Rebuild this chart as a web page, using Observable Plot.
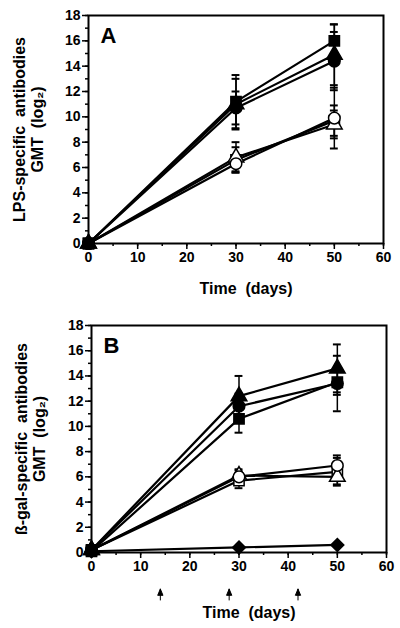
<!DOCTYPE html>
<html><head><meta charset="utf-8">
<script src="https://cdn.jsdelivr.net/npm/d3@7"></script>
<script src="https://cdn.jsdelivr.net/npm/@observablehq/plot@0.6"></script>
<style>
body{margin:0;background:#fff;}
#chart{width:400px;}
#chart svg{display:block;}
</style>
</head><body><div id="chart"></div>
<script>
// ---- data ----
const days = [0, 30, 50];
const immunizationDays = [14, 28, 42];
const yTicks = [0, 2, 4, 6, 8, 10, 12, 14, 16, 18];
const xTicks = [0, 10, 20, 30, 40, 50, 60];

// Panel A (LPS-specific), mean log2 GMT and SD at days 0, 30, 50
const seriesA = ["filled square", "filled triangle", "filled circle", "open circle", "open triangle", "open square"];
const aFilledSquare   = [0, 11.2, 16.0];
const aFilledTriangle = [0, 11.0, 14.9];
const aFilledCircle   = [0, 10.7, 14.4];
const aOpenCircle     = [0, 6.3, 9.9];
const aOpenTriangle   = [0, 6.8, 9.4];
const aOpenSquare     = [0, 6.6, 9.7];
const aSdFilledSquare   = [0, 2.1, 1.3];
const aSdFilledTriangle = [0, 2.0, 2.4];
const aSdFilledCircle   = [0, 1.3, 2.3];
const aSdOpenCircle     = [0, 0.6, 2.4];
const aSdOpenTriangle   = [0, 1.2, 1.1];
const aSdOpenSquare     = [0, 1.0, 1.2];

// Panel B (beta-gal-specific)
const seriesB = ["filled square", "filled triangle", "filled circle", "open circle", "open triangle", "open square", "filled diamond"];
const bFilledSquare   = [0.1, 10.6, 13.5];
const bFilledTriangle = [0.2, 12.4, 14.6];
const bFilledCircle   = [0.2, 11.6, 13.4];
const bOpenCircle     = [0.2, 6.0, 6.9];
const bOpenTriangle   = [0.2, 6.1, 6.0];
const bOpenSquare     = [0.2, 5.7, 6.4];
const bFilledDiamond  = [0.1, 0.4, 0.6];
const bSdFilledSquare   = [0, 1.1, 1.0];
const bSdFilledTriangle = [0, 1.6, 1.9];
const bSdFilledCircle   = [0, 1.0, 2.2];
const bSdOpenCircle     = [0, 0.5, 0.8];
const bSdOpenTriangle   = [0, 0.5, 0.6];
const bSdOpenSquare     = [0, 0.6, 1.1];
const bSdFilledDiamond  = [0, 0, 0];

// ---- build tables ----
function rows(names, values, sds) {
  const out = [];
  names.forEach((s, k) => days.forEach((d, i) => out.push({series: s, day: d, value: values[k][i], sd: sds[k][i]})));
  return out;
}
const rowsA = rows(seriesA,
  [aFilledSquare, aFilledTriangle, aFilledCircle, aOpenCircle, aOpenTriangle, aOpenSquare],
  [aSdFilledSquare, aSdFilledTriangle, aSdFilledCircle, aSdOpenCircle, aSdOpenTriangle, aSdOpenSquare]);
const rowsB = rows(seriesB,
  [bFilledSquare, bFilledTriangle, bFilledCircle, bOpenCircle, bOpenTriangle, bOpenSquare, bFilledDiamond],
  [bSdFilledSquare, bSdFilledTriangle, bSdFilledCircle, bSdOpenCircle, bSdOpenTriangle, bSdOpenSquare, bSdFilledDiamond]);

const symbolFor = {"filled square": "square", "filled triangle": "triangle", "filled circle": "circle",
  "open circle": "circle", "open triangle": "triangle", "open square": "square", "filled diamond": "diamond2"};
const fillFor = s => s.startsWith("filled") ? "black" : "white";

const FONT = "Liberation Sans, Arial, Helvetica, sans-serif";

// upward arrow with a filled head, drawn by Plot.vector
const upArrow = {
  draw(context, l) {
    context.moveTo(0, 0);
    context.lineTo(0, -l);
    context.moveTo(-2.5, -l + 6);
    context.lineTo(0, -l);
    context.lineTo(2.5, -l + 6);
    context.closePath();
  }
};

function panel({data, names, letter, ylab1, ylab2, margins, labDx, xlabDy, arrows}) {
  const err = data.filter(d => d.sd > 0);
  const order = [...names].reverse(); // draw filled square last (on top)
  const sorted = data.slice().sort((a, b) => order.indexOf(a.series) - order.indexOf(b.series));
  const marks = [
    Plot.frame({stroke: "black", strokeWidth: 2}),
    Plot.axisY({ticks: d3.range(0, 19, 1), tickSize: 3, tickFormat: () => "", label: null, strokeWidth: 1.5}),
    Plot.axisY({ticks: yTicks, tickSize: 6, tickPadding: 2, label: null, strokeWidth: 1.5, fontSize: 14, fontWeight: "bold"}),
    Plot.axisX({ticks: d3.range(0, 61, 5), tickSize: 3, tickFormat: () => "", label: null, strokeWidth: 1.5}),
    Plot.axisX({ticks: xTicks, tickSize: 6, tickPadding: 3, label: null, strokeWidth: 1.5, fontSize: 14, fontWeight: "bold"}),
    Plot.line(data, {x: "day", y: "value", z: "series", stroke: "black", strokeWidth: 2.2}),
    Plot.ruleX(err, {x: "day", y1: d => d.value - d.sd, y2: d => d.value + d.sd, stroke: "black", strokeWidth: 1.5}),
    Plot.ruleY(err, {y: d => d.value + d.sd, x1: d => d.day - 0.8, x2: d => d.day + 0.8, stroke: "black", strokeWidth: 2}),
    Plot.ruleY(err, {y: d => d.value - d.sd, x1: d => d.day - 0.8, x2: d => d.day + 0.8, stroke: "black", strokeWidth: 2}),
    Plot.dot(sorted, {x: "day", y: "value", symbol: d => symbolFor[d.series], fill: d => fillFor(d.series), stroke: "black", strokeWidth: 1.5, r: 5.8}),
    Plot.text([letter], {frameAnchor: "top-left", dx: 12, dy: 12, lineAnchor: "top", textAnchor: "start", fontSize: 22, fontWeight: "bold"}),
    Plot.text([ylab1], {frameAnchor: "left", rotate: -90, textAnchor: "middle", lineAnchor: "middle", dx: labDx[0], fontSize: 16, fontWeight: "bold"}),
    Plot.text([ylab2], {frameAnchor: "left", rotate: -90, textAnchor: "middle", lineAnchor: "middle", dx: labDx[1], fontSize: 16, fontWeight: "bold"}),
    Plot.text(["Time\u00a0 (days)"], {frameAnchor: "bottom", lineAnchor: "middle", textAnchor: "middle", dy: xlabDy, dx: 10, fontSize: 16, fontWeight: "bold"})
  ];
  if (arrows) {
    marks.push(Plot.vector(arrows, {x: d => d, frameAnchor: "bottom", dy: 42, length: 11, rotate: 0, anchor: "middle",
      shape: upArrow, stroke: "black", fill: "black", strokeWidth: 1}));
  }
  return Plot.plot({
    width: 400, height: 314,
    marginTop: margins[0], marginRight: margins[1], marginBottom: margins[2], marginLeft: margins[3],
    x: {domain: [0, 60]},
    y: {domain: [0, 18]},
    symbol: {type: "identity"},
    color: {type: "identity"},
    style: {fontFamily: FONT, fontWeight: "bold", color: "black", background: "white", overflow: "visible"},
    marks
  });
}

const chart = document.getElementById("chart");
chart.append(panel({data: rowsA, names: seriesA, letter: "A",
  ylab1: "LPS-specific\u00a0 antibodies", ylab2: "GMT\u00a0 (log\u2082)", margins: [15, 17, 71, 88],
  labDx: [-69, -51], xlabDy: 45}));
chart.append(panel({data: rowsB, names: seriesB, letter: "B",
  ylab1: "\u00df-gal-specific\u00a0 antibodies", ylab2: "GMT\u00a0 (log\u2082)", margins: [11, 14, 76, 91],
  labDx: [-70, -52], xlabDy: 60, arrows: immunizationDays}));
</script>
</body></html>
